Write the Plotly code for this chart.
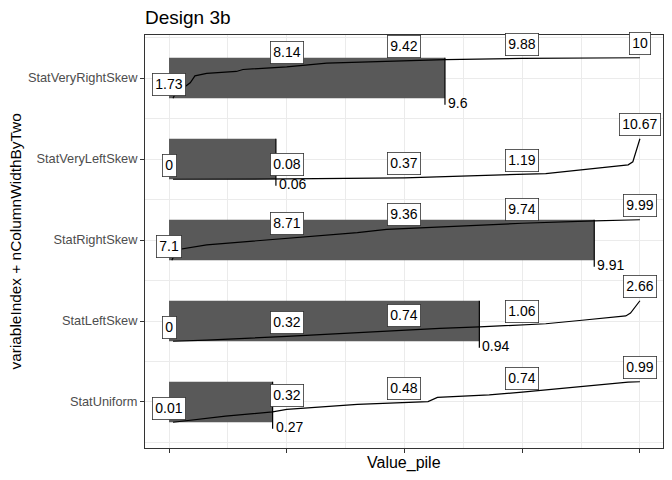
import plotly.graph_objects as go

# Data
categories = ["StatUniform", "StatLeftSkew", "StatRightSkew", "StatVeryLeftSkew", "StatVeryRightSkew"]
quantile_pos = [0, 0.25, 0.5, 0.75, 1]

# labelled values at the quantile positions
uniform_q = [0.01, 0.32, 0.48, 0.74, 0.99]
left_q = [0, 0.32, 0.74, 1.06, 2.66]
right_q = [7.1, 8.71, 9.36, 9.74, 9.99]
vleft_q = [0, 0.08, 0.37, 1.19, 10.67]
vright_q = [1.73, 8.14, 9.42, 9.88, 10]

# bar (pile) end and its value
bar_end_pos = [0.22, 0.659, 0.903, 0.227, 0.586]
bar_end_value = [0.27, 0.94, 9.91, 0.06, 9.6]

# sorted value curves
uniform_x = [0.0085, 0.03, 0.12, 0.22, 0.25, 0.4, 0.5, 0.55, 0.57, 0.68, 0.75, 0.87, 0.975, 1.0]
uniform_v = [0.01, 0.04, 0.16, 0.26, 0.32, 0.44, 0.48, 0.51, 0.61, 0.67, 0.74, 0.87, 0.98, 0.99]

left_x = [0.0085, 0.08, 0.25, 0.5, 0.575, 0.659, 0.75, 0.8, 0.877, 0.97, 0.98, 1.0]
left_v = [0, 0.07, 0.32, 0.74, 0.84, 0.94, 1.06, 1.15, 1.38, 1.66, 1.85, 2.66]

right_x = [0.006, 0.017, 0.08, 0.228, 0.25, 0.4, 0.462, 0.5, 0.575, 0.75, 0.903, 1.0]
right_v = [7.1, 7.85, 8.2, 8.6, 8.71, 9.07, 9.3, 9.36, 9.48, 9.74, 9.91, 9.99]

vleft_x = [0.0085, 0.25, 0.5, 0.75, 0.8, 0.93, 0.975, 0.985, 1.0]
vleft_v = [0, 0.08, 0.37, 1.19, 1.5, 3.2, 3.8, 4.6, 10.67]

vright_x = [0.0085, 0.013, 0.045, 0.055, 0.08, 0.143, 0.157, 0.25, 0.335, 0.5, 0.586, 0.75, 1.0]
vright_v = [1.73, 2.6, 4.9, 6.3, 6.8, 7.2, 7.6, 8.14, 8.9, 9.42, 9.6, 9.88, 10]

quantiles = [uniform_q, left_q, right_q, vleft_q, vright_q]
curves_x = [uniform_x, left_x, right_x, vleft_x, vright_x]
curves_v = [uniform_v, left_v, right_v, vleft_v, vright_v]

FONT = "Liberation Sans, Arial, sans-serif"
half = 0.25
idx = list(range(1, len(categories) + 1))

fig = go.Figure()

# piles
fig.add_trace(go.Bar(
    x=bar_end_pos, y=idx, base=0, orientation="h", width=2 * half,
    marker=dict(color="#595959", line=dict(width=0)),
    hoverinfo="skip", showlegend=False,
))

annotations = []
for i, (q, cx, cv) in enumerate(zip(quantiles, curves_x, curves_v)):
    yc = idx[i]
    lo, hi = q[0], q[-1]

    def scale(v):
        return yc - half + 2 * half * (v - lo) / (hi - lo)

    fig.add_trace(go.Scatter(
        x=cx, y=[scale(v) for v in cv], mode="lines",
        line=dict(color="black", width=1.2),
        hoverinfo="skip", showlegend=False,
    ))
    # vertical marker at the bar end
    fig.add_trace(go.Scatter(
        x=[bar_end_pos[i], bar_end_pos[i]], y=[yc + half, yc - half - 0.08],
        mode="lines", line=dict(color="black", width=1.2),
        hoverinfo="skip", showlegend=False,
    ))
    annotations.append(dict(
        x=bar_end_pos[i], y=yc - half, text=f"{bar_end_value[i]:g}",
        xanchor="left", yanchor="middle", xshift=1, yshift=-5,
        showarrow=False, font=dict(family=FONT, size=14, color="black"),
    ))
    for p, v in zip(quantile_pos, q):
        annotations.append(dict(
            x=p, y=scale(v), text=f"{v:g}",
            xanchor="center", yanchor="middle", yshift=14,
            showarrow=False, font=dict(family=FONT, size=14, color="black"),
            bgcolor="white", bordercolor="#333333", borderwidth=0.8, borderpad=2.5,
        ))

annotations.append(dict(
    x=0.5, y=-0.036, xref="paper", yref="paper", text="Value_pile",
    showarrow=False, xanchor="center", yanchor="middle",
    font=dict(family=FONT, size=16, color="black"),
))
annotations.append(dict(
    x=-130 / 518, y=0.5, xref="paper", yref="paper",
    text="variableIndex + nColumnWidthByTwo", textangle=-90,
    showarrow=False, xanchor="center", yanchor="middle",
    font=dict(family=FONT, size=15.4, color="black"),
))

fig.update_layout(
    width=672, height=480,
    margin=dict(l=145, r=9, t=35, b=32),
    paper_bgcolor="white", plot_bgcolor="white",
    title=dict(text="Design 3b", x=145 / 672, xanchor="left", xref="container",
               y=1 - 17 / 480, yanchor="middle",
               font=dict(family=FONT, size=19, color="black")),
    annotations=annotations,
    showlegend=False,
    xaxis=dict(
        range=[-0.051, 1.049], tickvals=quantile_pos, showticklabels=False,
        ticks="outside", ticklen=4, tickcolor="#333333", tickwidth=1,
        showgrid=True, gridcolor="#EBEBEB", gridwidth=1.1, zeroline=False,
        showline=True, linecolor="#333333", linewidth=1, mirror=True,
        minor=dict(tickvals=[0.125, 0.375, 0.625, 0.875], showgrid=True,
                   gridcolor="#EBEBEB", gridwidth=0.6),
    ),
    yaxis=dict(
        range=[0.432, 5.531], tickvals=idx, ticktext=categories,
        tickfont=dict(family=FONT, size=12.8, color="#4D4D4D"),
        ticks="outside", ticklen=4, tickcolor="#333333", tickwidth=1,
        showgrid=True, gridcolor="#EBEBEB", gridwidth=1.1, zeroline=False,
        showline=True, linecolor="#333333", linewidth=1, mirror=True,
        minor=dict(tickvals=[0.5, 1.5, 2.5, 3.5, 4.5, 5.5], showgrid=True,
                   gridcolor="#EBEBEB", gridwidth=0.6),
    ),
)

fig.write_html("out.html", config={"displayModeBar": False},
               post_script="document.body.style.margin='0px';")
